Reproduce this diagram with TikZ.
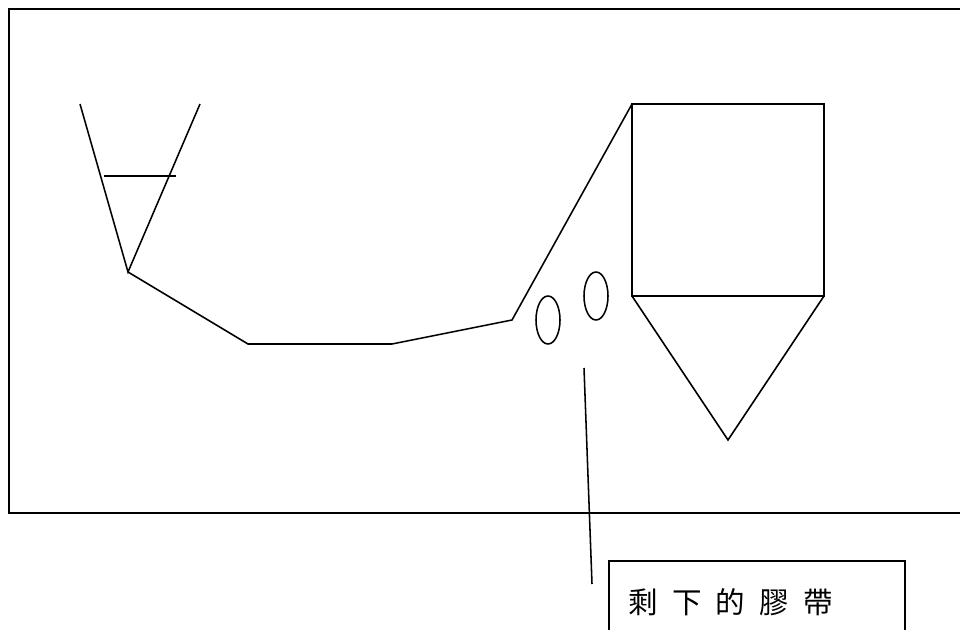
\documentclass[tikz,border=0pt]{standalone}
\usepackage{fontspec}
\usetikzlibrary{shapes.geometric}
\newfontfamily\cjk{Noto Sans CJK TC}
\begin{document}
\begin{tikzpicture}[x=0.025cm, y=-0.025cm, line width=1.1pt,
		blob/.style={draw, ellipse, minimum width=0.6cm, minimum height=1.2cm, inner sep=0pt},
		tag/.style={draw, minimum width=7.4cm, minimum height=2.5cm, anchor=north west, inner sep=0pt}]
		\useasboundingbox (0, 0) rectangle (960, 630);
		\clip (0, 0) rectangle (960, 630);

		\node[draw, minimum width=23.8cm, minimum height=12.6cm, anchor=north west, inner sep=0pt] at (8, 8) (frame) {};

		\coordinate (a) at (80, 104);
		\coordinate (b) at (200, 104);
		\coordinate (c) at (128, 272);
		\coordinate (d) at (248, 344);
		\coordinate (e) at (392, 344);
		\coordinate (f) at (512, 320);
		\coordinate (g) at (632, 104);
		\coordinate (h) at (824, 104);
		\coordinate (i) at (824, 296);
		\coordinate (j) at (632, 296);
		\coordinate (k) at (728, 440);
		\coordinate (l1) at (104, 176);
		\coordinate (l2) at (176, 176);

		\draw (a) -- (c) -- (b);
		\draw (l1) -- (l2);
		\draw (c) -- (d) -- (e) -- (f) -- (g);
		\draw (g) -- (h) -- (i) -- (j) -- cycle;
		\draw (j) -- (k) -- (i);

		\node[blob] at (548, 320) (blob1) {};
		\node[blob] at (596, 296) (blob2) {};

		\node[tag] at (608, 560) (tag1) {};
		\node[anchor=west, inner sep=0pt] at (628, 602) (text1) {\cjk\fontsize{21}{21}\selectfont 剩\hspace{10pt}下\hspace{10pt}的\hspace{10pt}膠\hspace{10pt}帶};

		\coordinate (p) at (584, 368);
		\coordinate (q) at (592, 584);
		\draw (p) -- (q);
	\end{tikzpicture}
\end{document}
